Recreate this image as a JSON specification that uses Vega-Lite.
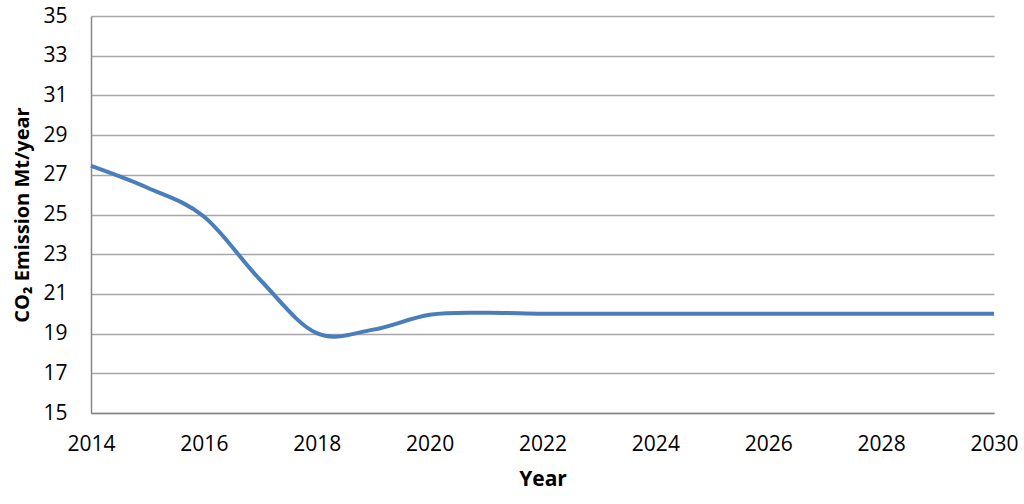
{
  "$schema": "https://vega.github.io/schema/vega-lite/v6.json",
  "width": 903,
  "height": 397,
  "autosize": {"type": "none"},
  "padding": {"left": 91, "top": 16, "right": 30, "bottom": 91},
  "background": "white",
  "config": {
    "view": {"stroke": null},
    "axis": {"labelFont": "Open Sans", "titleFont": "Open Sans", "labelColor": "#000000", "titleColor": "#000000"}
  },
  "data": {
    "values": [
      {"year": 2014, "co2": 27.45},
      {"year": 2015, "co2": 26.35},
      {"year": 2016, "co2": 24.9},
      {"year": 2017, "co2": 21.7},
      {"year": 2018, "co2": 19.02},
      {"year": 2019, "co2": 19.2},
      {"year": 2020, "co2": 19.95},
      {"year": 2021, "co2": 20.05},
      {"year": 2022, "co2": 20.0},
      {"year": 2023, "co2": 20.0},
      {"year": 2024, "co2": 20.0},
      {"year": 2025, "co2": 20.0},
      {"year": 2026, "co2": 20.0},
      {"year": 2027, "co2": 20.0},
      {"year": 2028, "co2": 20.0},
      {"year": 2029, "co2": 20.0},
      {"year": 2030, "co2": 20.0}
    ]
  },
  "mark": {"type": "line", "interpolate": "cardinal", "tension": 0, "color": "#4A7EBB", "strokeWidth": 4},
  "encoding": {
    "x": {
      "field": "year", "type": "quantitative",
      "scale": {"domain": [2014, 2030], "nice": false, "zero": false},
      "axis": {
        "values": [2014, 2016, 2018, 2020, 2022, 2024, 2026, 2028, 2030],
        "format": "d", "title": "Year", "grid": false, "ticks": false,
        "labelFontSize": 21, "labelPadding": 20, "labelFlush": false,
        "titleFontSize": 21, "titleFontWeight": "bold", "titlePadding": 14,
        "domainColor": "#868686", "domainWidth": 1.5
      }
    },
    "y": {
      "field": "co2", "type": "quantitative",
      "scale": {"domain": [15, 35], "nice": false, "zero": false},
      "axis": {
        "values": [15, 17, 19, 21, 23, 25, 27, 29, 31, 33, 35],
        "title": "CO₂ Emission Mt/year", "ticks": false,
        "gridColor": "#A6A6A6", "gridWidth": 1.5,
        "labelFontSize": 21, "labelPadding": 24,
        "titleFontSize": 20, "titleFontWeight": "bold", "titlePadding": 10,
        "domainColor": "#868686", "domainWidth": 1.5
      }
    }
  }
}
